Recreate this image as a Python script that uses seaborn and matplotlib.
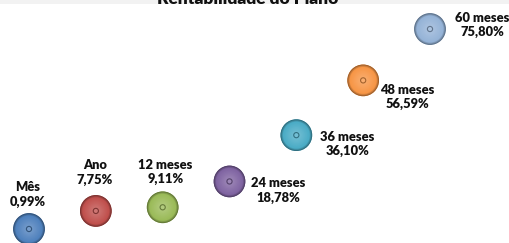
import numpy as np
import pandas as pd
import matplotlib
matplotlib.use("Agg")
import matplotlib.pyplot as plt
from matplotlib.colors import to_rgb
from matplotlib.patches import Rectangle
import seaborn as sns

# ---- data ----
categories = ["Mês", "Ano", "12 meses", "24 meses", "36 meses", "48 meses", "60 meses"]
values = [0.99, 7.75, 9.11, 18.78, 36.10, 56.59, 75.80]
value_labels = ["0,99%", "7,75%", "9,11%", "18,78%", "36,10%", "56,59%", "75,80%"]
colors = ["#4F81BD", "#C0504D", "#9BBB59", "#8064A2", "#4BACC6", "#F79646", "#95B3D7"]
title = "Rentabilidade do Plano"

# label offsets (pixels relative to bubble centre, y up)
label_offsets_px = [(-1, 34.5), (-1, 38.5), (3, 35.5), (49, -9), (51, -8.5), (44, -16.5), (52, 4)]

sns.set_theme(style="white")
plt.rcParams["font.family"] = ["Lato", "DejaVu Sans"]

W, H, DPI = 510, 243, 100
fig = plt.figure(figsize=(W / DPI, H / DPI), dpi=DPI)
fig.patch.set_facecolor("white")
ax = fig.add_axes([0, 0, 1, 1])
ax.set_facecolor("white")

df = pd.DataFrame({"cat": categories, "x": np.arange(len(categories)), "y": values})

base_size = 520  # points^2
sns.scatterplot(data=df, x="x", y="y", hue="cat", palette=colors, s=base_size,
                edgecolor="none", legend=False, ax=ax, zorder=2)

rgbs = [np.array(to_rgb(c)) for c in colors]

# sphere-like shading: soft dark rim, then body, then lighter core
ax.scatter(df["x"], df["y"], s=base_size, c=[r * 0.62 for r in rgbs], edgecolors="none", zorder=2.5)
ax.scatter(df["x"], df["y"], s=base_size * 0.9, c=[r * 0.78 for r in rgbs], edgecolors="none", zorder=2.6)
ax.scatter(df["x"], df["y"], s=base_size * 0.8, c=[r * 0.9 for r in rgbs], edgecolors="none", zorder=2.7)
n_layers = 10
for i in range(n_layers):
    frac = i / (n_layers - 1)
    size = base_size * 0.72 * (1 - 0.85 * frac) ** 2
    cols = [np.clip(r + (1 - r) * 0.22 * frac, 0, 1) if frac > 0 else r for r in rgbs]
    ax.scatter(df["x"], df["y"], s=size, c=cols, edgecolors="none", zorder=3 + i * 0.01)

# small centre ring
ax.scatter(df["x"], df["y"], s=14, facecolors="none",
           edgecolors=[r * 0.65 for r in rgbs], linewidths=0.8, zorder=4)

# labels
for xi, yi, cat, lab, (dx, dy) in zip(df["x"], values, categories, value_labels, label_offsets_px):
    ax.annotate(f"{cat}\n{lab}", xy=(xi, yi), xytext=(dx * 0.72, dy * 0.72),
                textcoords="offset points", ha="center", va="center",
                fontsize=9.3, fontweight="heavy", color="#111111", linespacing=1.2, zorder=5)

# axis scaling so bubbles land where the reference puts them
step = 66.83
ax.set_xlim(-29 / step, 6 + 80 / step)
ax.set_ylim(-4.25, 86.66)
ax.axis("off")

# top grey band and clipped title
fig.patches.append(Rectangle((0, 1 - 4.5 / H), 1, 4.5 / H, transform=fig.transFigure,
                             facecolor="#f2f2f2", edgecolor="none", zorder=0))
fig.text(248 / W, 1 - 3.5 / H, title, ha="center", va="baseline",
         fontsize=12.5, fontweight="heavy", color="#111111")

fig.savefig("out.png", dpi=DPI, facecolor="white")
